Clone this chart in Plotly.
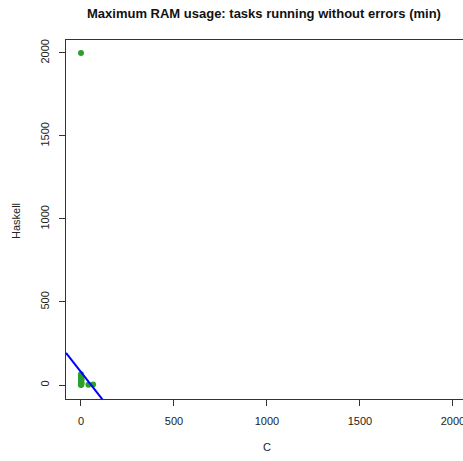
import plotly.graph_objects as go

# Data
c_vals = [0, 0, 0, 0, 0, 0, 0, 0, 0, 2, 2, 3, 3, 1, 1, 40, 65]
haskell_vals = [2000, 65, 50, 40, 30, 20, 10, 5, 0, 15, 25, 35, 8, 55, 3, 2, 3]

# fitted line (intercept, slope)
fit_intercept = 78
fit_slope = -1.43

x_ticks = [0, 500, 1000, 1500, 2000]
y_ticks = [0, 500, 1000, 1500, 2000]

x_range = [-80.6, 2054]
y_range = [-84.3, 2078]

title_text = "Maximum RAM usage: tasks running without errors (min)"
x_title = "C"
y_title = "Haskell"

fig = go.Figure()

fig.add_trace(go.Scatter(
    x=c_vals, y=haskell_vals, mode="markers",
    marker=dict(color="#2ca02c", size=6, line=dict(width=0)),
    showlegend=False, hoverinfo="skip"))

line_x = [x_range[0], x_range[1]]
line_y = [fit_intercept + fit_slope * v for v in line_x]
fig.add_trace(go.Scatter(
    x=line_x, y=line_y, mode="lines",
    line=dict(color="#0000ff", width=2),
    showlegend=False, hoverinfo="skip"))

font_family = "Liberation Sans, Arial, Helvetica, sans-serif"

L, R, T, B = 66, 0, 40, 62
W, H = 463, 461

fig.update_layout(
    width=W, height=H,
    margin=dict(l=L, r=R, t=T, b=B, autoexpand=False),
    paper_bgcolor="white", plot_bgcolor="white",
    font=dict(family=font_family, size=11, color="#222"),
    showlegend=False,
    xaxis=dict(
        range=x_range, tickvals=x_ticks, ticktext=[str(v) for v in x_ticks],
        showgrid=False, zeroline=False, automargin=False,
        showline=True, linecolor="#333", linewidth=1, mirror=True,
        ticks="outside", ticklen=6, tickcolor="#333", tickwidth=1,
        ticklabelstandoff=6, ticklabeloverflow="allow",
        tickfont=dict(size=11, color="#222"),
    ),
    yaxis=dict(
        range=y_range, tickvals=y_ticks, ticktext=[str(v) for v in y_ticks],
        showgrid=False, zeroline=False, automargin=False,
        showline=True, linecolor="#333", linewidth=1, mirror=False,
        ticks="outside", ticklen=6, tickcolor="#333", tickwidth=1,
        tickangle=-90, ticklabelstandoff=6, ticklabeloverflow="allow",
        tickfont=dict(size=11, color="#222"),
    ),
)

pw = W - L - R
ph = H - T - B
def px_to_paper(px, py):
    return (px - L) / pw, 1 - (py - T) / ph

anns = []
for text, (px, py), size, angle in [
    ("<b>" + title_text + "</b>", (264, 13), 13, 0),
    (x_title, (267, 447), 11, 0),
    (y_title, (16, 221), 11, -90),
]:
    xp, yp = px_to_paper(px, py)
    anns.append(dict(text=text, x=xp, y=yp, xref="paper", yref="paper",
                     xanchor="center", yanchor="middle", showarrow=False,
                     textangle=angle,
                     font=dict(size=size, color="#111" if size > 12 else "#222",
                               family=font_family)))
fig.update_layout(annotations=anns)

fig.write_html("out.html",
               config={"displayModeBar": False},
               post_script="document.body.style.margin='0';document.body.style.overflow='hidden';")
